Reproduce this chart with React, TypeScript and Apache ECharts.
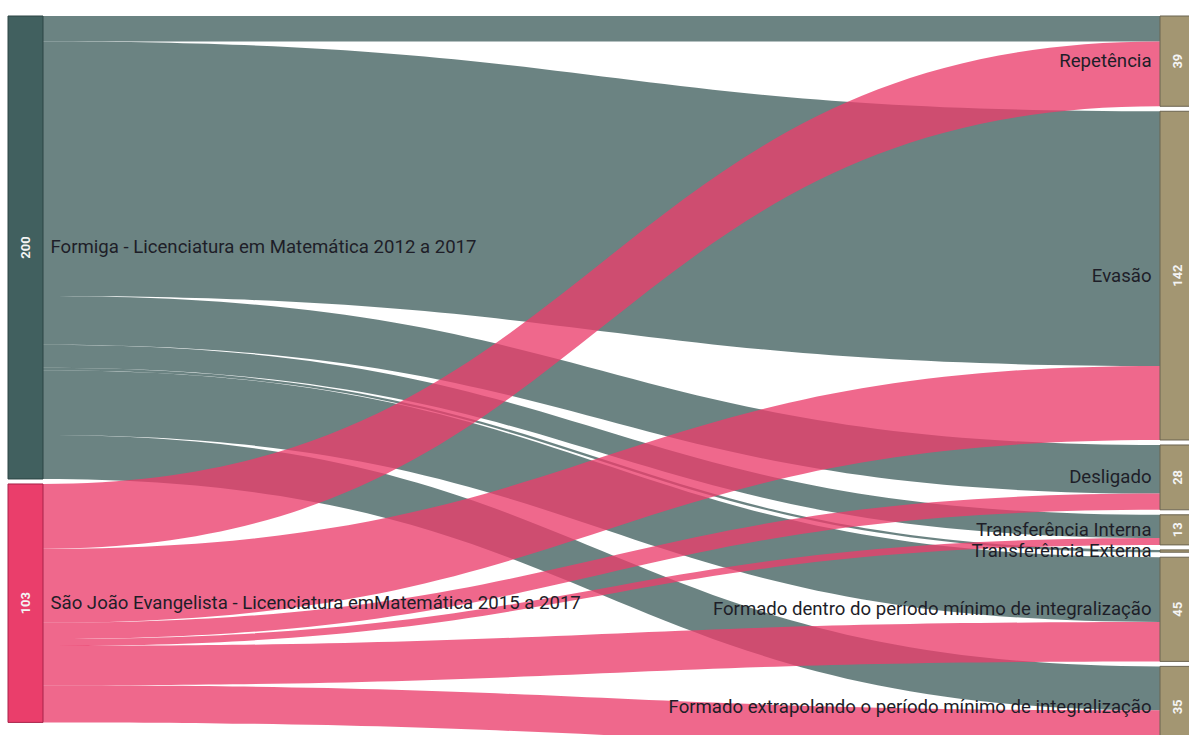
import React, { useEffect, useRef } from "react";
import * as echarts from "echarts";

// ---- data ----
const sources = [
  "Formiga - Licenciatura em Matemática 2012 a 2017",
  "São João Evangelista - Licenciatura emMatemática 2015 a 2017",
];
const targets = [
  "Repetência",
  "Evasão",
  "Desligado",
  "Transferência Interna",
  "Transferência Externa",
  "Formado dentro do período mínimo de integralização",
  "Formado extrapolando o período mínimo de integralização",
];
// flows from each source to each target (same order as targets)
const formigaFlows = [11, 110, 21, 10, 1, 28, 19];
const saoJoaoFlows = [28, 32, 7, 3, 0, 17, 16];
const flowsBySource = [formigaFlows, saoJoaoFlows];

// ---- styles ----
const sourceColors = ["#41605f", "#ea3e6b"];
const sourceBorders = ["#2c4545", "#a8234a"];
const targetColor = "#a39672";
const targetBorder = "#6b6450";

export default function App() {
  const ref = useRef<HTMLDivElement>(null);

  useEffect(() => {
    if (!ref.current) return;
    const chart = echarts.init(ref.current, undefined, { renderer: "svg" });

    const links: any[] = [];
    flowsBySource.forEach((flows, si) => {
      flows.forEach((v, ti) => {
        if (v > 0) links.push({ source: sources[si], target: targets[ti], value: v });
      });
    });
    const totals: Record<string, number> = {};
    links.forEach((l) => {
      totals[l.source] = (totals[l.source] || 0) + l.value;
      totals[l.target] = (totals[l.target] || 0) + l.value;
    });

    const nodes = [
      ...sources.map((name, i) => ({
        name,
        itemStyle: { color: sourceColors[i], borderColor: sourceBorders[i], borderWidth: 1 },
        label: { position: "right", distance: 7 },
      })),
      ...targets.map((name) => ({
        name,
        itemStyle: { color: targetColor, borderColor: targetBorder, borderWidth: 1 },
        label: { position: "left", distance: 8 },
      })),
    ];

    const valueNodes = [...sources, ...targets].map((name) => ({
      name,
      itemStyle: { color: "rgba(0,0,0,0)", borderWidth: 0 },
      label: { show: totals[name] >= 5 },
    }));

    const geometry = {
      left: 8,
      top: 16,
      width: 1187,
      height: 731.4,
      nodeWidth: 35,
      nodeGap: 5,
      layoutIterations: 0,
      draggable: false,
    };

    chart.setOption({
      animation: false,
      series: [
        {
          type: "sankey",
          ...geometry,
          emphasis: { disabled: true },
          data: nodes,
          links,
          lineStyle: { color: "source", opacity: 0.78, curveness: 0.5 },
          label: {
            fontFamily: "Roboto",
            fontSize: 18.6,
            color: "#1e1e28",
          },
        },
        {
          type: "sankey",
          ...geometry,
          silent: true,
          emphasis: { disabled: true },
          data: valueNodes,
          links: links.map((l) => ({ ...l })),
          lineStyle: { opacity: 0 },
          label: {
            position: "inside",
            rotate: 90,
            fontFamily: "Roboto",
            fontSize: 13,
            fontWeight: "bold",
            color: "#f4f4f4",
            formatter: (p: any) => String(totals[p.name]),
          },
        },
      ],
    });

    return () => chart.dispose();
  }, []);

  return (
    <div
      style={{
        position: "fixed",
        left: 0,
        top: 0,
        width: 1189,
        height: 735,
        overflow: "hidden",
        background: "#fff",
      }}
    >
      <div ref={ref} style={{ width: 1200, height: 760 }} />
    </div>
  );
}
